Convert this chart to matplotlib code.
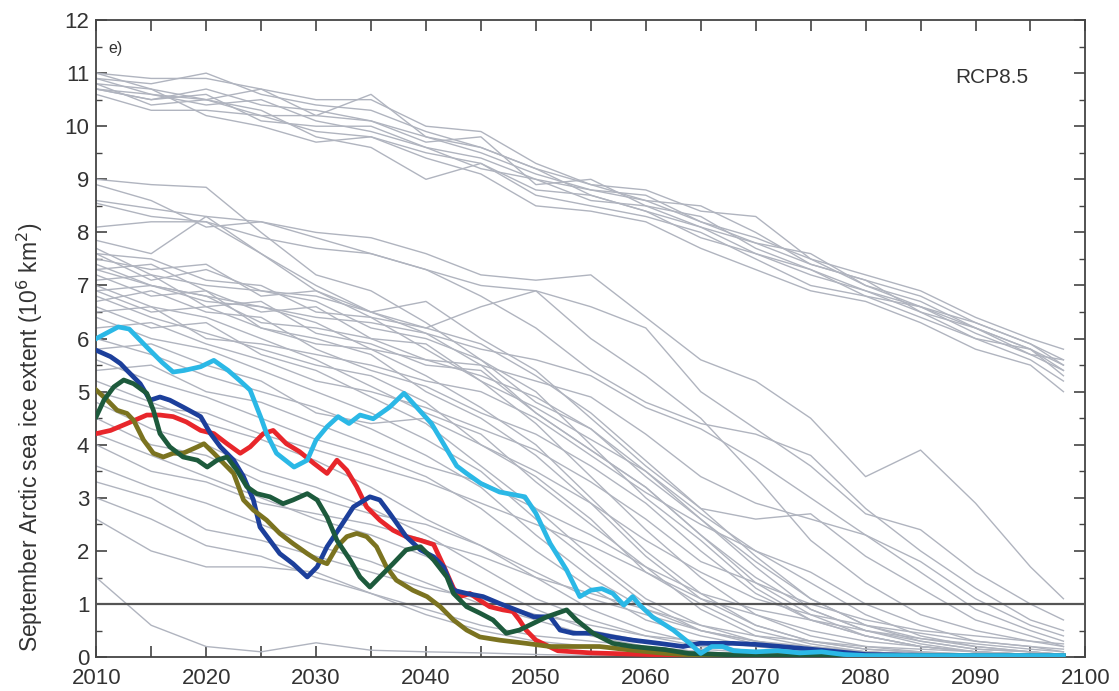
import numpy as np
import matplotlib
matplotlib.use("Agg")
import matplotlib.pyplot as plt
from matplotlib.ticker import MultipleLocator

plt.rcParams["font.family"] = ["Liberation Sans", "DejaVu Sans"]

# ---- ensemble members (grey), sampled every 5 years ----
years5 = [2010, 2015, 2020, 2025, 2030, 2035, 2040, 2045, 2050, 2055,
          2060, 2065, 2070, 2075, 2080, 2085, 2090, 2095, 2098]

models_high = [
    [11.0, 10.9, 10.9, 10.7, 10.5, 10.5, 10.0, 9.9, 9.3, 8.9, 8.8, 8.4, 8.3, 7.5, 7.2, 6.9, 6.4, 6.0, 5.8],
    [10.9, 10.8, 11.0, 10.6, 10.4, 10.3, 9.9, 9.6, 9.2, 8.9, 8.6, 8.5, 8.0, 7.4, 7.1, 6.8, 6.3, 5.9, 5.6],
    [10.8, 10.7, 10.5, 10.7, 10.2, 10.6, 9.8, 9.5, 9.1, 8.8, 8.7, 8.2, 7.9, 7.5, 7.0, 6.7, 6.2, 5.8, 5.5],
    [10.7, 10.5, 10.7, 10.4, 10.3, 10.1, 9.7, 9.8, 8.9, 9.0, 8.5, 8.1, 7.8, 7.6, 7.0, 6.6, 6.3, 5.9, 5.5],
    [10.7, 10.6, 10.4, 10.5, 10.1, 9.9, 9.6, 9.4, 9.0, 8.6, 8.5, 8.3, 7.7, 7.3, 6.9, 6.6, 6.1, 5.7, 5.4],
    [10.6, 10.3, 10.3, 10.2, 9.9, 9.8, 9.5, 9.3, 8.8, 8.7, 8.4, 7.9, 7.6, 7.2, 6.9, 6.5, 6.0, 5.8, 5.3],
    [10.8, 10.4, 10.5, 10.3, 9.8, 9.6, 9.0, 9.3, 8.7, 8.5, 8.3, 8.0, 7.5, 7.0, 6.8, 6.4, 6.0, 5.6, 5.2],
    [11.0, 10.7, 10.2, 10.0, 9.7, 9.8, 9.4, 9.1, 8.5, 8.4, 8.2, 7.7, 7.3, 6.9, 6.7, 6.3, 5.8, 5.5, 5.0],
    [10.7, 10.5, 10.6, 10.1, 10.0, 10.0, 9.6, 9.2, 9.0, 8.8, 8.6, 8.2, 7.8, 7.4, 7.1, 6.5, 6.2, 5.7, 5.6],
    [10.9, 10.6, 10.5, 10.2, 10.2, 10.1, 9.8, 9.6, 9.2, 8.7, 8.4, 8.1, 7.6, 7.3, 6.8, 6.6, 6.2, 5.8, 5.4],
]

models_mid = [
    [9.0, 8.9, 8.85, 8.0, 7.2, 6.9, 6.3, 5.6, 4.8, 4.3, 3.5, 2.6, 1.8, 1.1, 0.6, 0.35, 0.2, 0.1, 0.05],
    [8.9, 8.6, 8.1, 8.2, 7.9, 7.6, 7.3, 7.0, 6.9, 6.6, 6.2, 5.0, 4.3, 3.6, 2.7, 2.4, 1.6, 1.0, 0.7],
    [8.6, 8.45, 8.3, 8.2, 8.0, 7.9, 7.6, 7.2, 7.1, 7.2, 6.4, 5.6, 5.2, 4.5, 3.4, 3.9, 2.9, 1.7, 1.1],
    [8.55, 8.3, 8.2, 7.6, 7.0, 6.5, 6.2, 6.6, 6.9, 6.0, 5.3, 4.5, 3.4, 2.2, 1.4, 0.8, 0.5, 0.3, 0.2],
    [8.1, 8.2, 8.2, 7.9, 7.7, 7.6, 7.3, 6.8, 6.2, 5.4, 4.8, 4.4, 4.2, 3.8, 2.8, 2.0, 1.3, 0.7, 0.5],
    [7.85, 7.6, 8.3, 7.6, 6.9, 6.5, 6.1, 5.5, 4.6, 3.9, 3.2, 2.3, 1.4, 0.8, 0.4, 0.2, 0.1, 0.05, 0.03],
]

models_low = [
    [7.7, 7.2, 7.0, 6.9, 6.7, 6.2, 6.0, 5.6, 5.0, 4.0, 3.0, 2.2, 1.3, 0.7, 0.4, 0.2, 0.1, 0.05, 0.03],
    [7.6, 7.5, 7.1, 7.0, 6.5, 6.4, 5.8, 5.2, 4.4, 3.4, 2.4, 1.5, 0.8, 0.4, 0.2, 0.1, 0.05, 0.03, 0.02],
    [7.5, 7.3, 7.4, 6.8, 6.9, 6.4, 6.2, 5.9, 5.3, 4.6, 3.7, 2.8, 1.9, 1.1, 0.6, 0.3, 0.15, 0.1, 0.05],
    [7.4, 7.0, 6.7, 6.6, 6.3, 5.8, 5.3, 4.7, 4.0, 3.0, 2.0, 1.2, 0.6, 0.3, 0.15, 0.08, 0.05, 0.03, 0.02],
    [7.3, 7.4, 6.9, 6.5, 6.6, 6.0, 5.6, 5.3, 4.9, 4.3, 3.4, 2.6, 1.7, 0.9, 0.5, 0.25, 0.1, 0.05, 0.03],
    [7.2, 6.8, 6.9, 6.2, 6.0, 5.7, 5.0, 4.5, 3.8, 2.9, 1.9, 1.1, 0.6, 0.3, 0.15, 0.1, 0.05, 0.03, 0.02],
    [7.1, 7.2, 6.6, 6.7, 6.1, 5.9, 5.5, 5.4, 4.6, 3.9, 3.2, 2.3, 1.5, 0.9, 0.5, 0.3, 0.15, 0.1, 0.05],
    [7.0, 6.6, 6.4, 6.0, 5.6, 5.1, 4.6, 4.2, 3.3, 2.5, 1.7, 0.9, 0.4, 0.2, 0.1, 0.05, 0.03, 0.02, 0.02],
    [6.9, 7.0, 6.8, 6.3, 6.2, 6.0, 5.9, 5.2, 4.7, 4.1, 3.5, 2.7, 2.0, 1.4, 0.8, 0.4, 0.2, 0.1, 0.05],
    [6.8, 6.4, 6.1, 5.8, 5.5, 5.3, 4.8, 4.0, 3.4, 2.6, 1.6, 1.0, 0.5, 0.25, 0.1, 0.05, 0.03, 0.02, 0.02],
    [6.7, 6.9, 6.5, 6.4, 5.8, 5.4, 5.1, 4.6, 4.2, 3.6, 2.9, 2.0, 1.2, 0.7, 0.4, 0.2, 0.1, 0.05, 0.03],
    [6.6, 6.2, 6.3, 5.7, 5.4, 4.9, 4.4, 3.6, 2.8, 1.9, 1.1, 0.6, 0.3, 0.15, 0.08, 0.05, 0.03, 0.02, 0.02],
    [6.5, 6.6, 6.0, 5.9, 5.7, 5.5, 5.2, 5.0, 4.5, 3.8, 3.1, 2.5, 2.0, 1.6, 1.0, 0.6, 0.3, 0.2, 0.1],
    [6.4, 6.0, 5.8, 5.4, 5.0, 4.6, 4.1, 3.5, 2.6, 1.8, 1.0, 0.5, 0.3, 0.15, 0.08, 0.05, 0.03, 0.02, 0.02],
    [6.2, 6.3, 5.9, 5.6, 5.2, 5.0, 4.7, 4.3, 3.9, 3.3, 2.6, 1.8, 1.4, 1.0, 0.7, 0.5, 0.4, 0.3, 0.25],
    [6.0, 5.7, 5.3, 5.0, 4.7, 4.3, 3.8, 3.2, 2.3, 1.5, 0.9, 0.5, 0.25, 0.1, 0.05, 0.03, 0.02, 0.02, 0.02],
    [5.8, 5.9, 5.5, 5.2, 4.6, 4.4, 4.5, 4.0, 3.5, 2.9, 2.2, 1.6, 1.1, 0.8, 0.6, 0.45, 0.3, 0.2, 0.15],
    [5.6, 5.2, 4.9, 4.5, 4.1, 3.8, 3.4, 2.8, 2.0, 1.3, 0.7, 0.4, 0.2, 0.1, 0.05, 0.03, 0.02, 0.02, 0.02],
    [5.4, 5.5, 5.0, 4.8, 4.4, 4.0, 3.6, 3.3, 2.8, 2.3, 1.7, 1.2, 0.9, 0.7, 0.5, 0.35, 0.25, 0.15, 0.1],
    [5.2, 4.8, 4.4, 4.1, 3.7, 3.2, 2.6, 2.1, 1.5, 0.9, 0.5, 0.25, 0.1, 0.05, 0.03, 0.02, 0.02, 0.02, 0.02],
    [5.0, 4.7, 4.6, 4.2, 3.9, 3.6, 3.3, 2.9, 2.5, 2.1, 1.6, 1.1, 0.8, 0.5, 0.3, 0.2, 0.1, 0.05, 0.03],
    [4.8, 4.3, 4.0, 3.5, 3.2, 2.8, 2.3, 1.7, 1.1, 0.7, 0.4, 0.2, 0.1, 0.05, 0.03, 0.02, 0.02, 0.02, 0.02],
    [4.5, 4.0, 3.8, 3.3, 3.0, 2.7, 2.5, 2.1, 1.6, 1.1, 0.8, 0.5, 0.3, 0.2, 0.1, 0.05, 0.03, 0.02, 0.02],
    [4.2, 3.8, 3.4, 3.0, 2.6, 2.3, 1.9, 1.4, 0.9, 0.5, 0.3, 0.15, 0.08, 0.05, 0.03, 0.02, 0.02, 0.02, 0.02],
    [4.0, 3.5, 3.3, 2.9, 2.7, 2.5, 2.2, 1.9, 1.5, 1.2, 0.9, 0.6, 0.4, 0.3, 0.2, 0.15, 0.1, 0.05, 0.03],
    [3.6, 3.2, 2.9, 2.5, 2.1, 1.8, 1.4, 1.0, 0.7, 0.4, 0.2, 0.1, 0.05, 0.03, 0.02, 0.02, 0.02, 0.02, 0.02],
    [3.3, 3.0, 2.4, 2.2, 1.9, 1.6, 1.3, 1.1, 0.8, 0.6, 0.4, 0.3, 0.2, 0.15, 0.1, 0.05, 0.03, 0.02, 0.02],
    [3.0, 2.6, 2.1, 1.9, 1.5, 1.2, 0.9, 0.6, 0.4, 0.3, 0.2, 0.1, 0.05, 0.03, 0.02, 0.02, 0.02, 0.02, 0.02],
    [2.6, 2.0, 1.7, 1.7, 1.6, 1.2, 0.8, 0.5, 0.3, 0.2, 0.1, 0.05, 0.03, 0.02, 0.02, 0.02, 0.02, 0.02, 0.02],
    [1.5, 0.6, 0.2, 0.1, 0.27, 0.13, 0.1, 0.08, 0.05, 0.03, 0.02, 0.02, 0.02, 0.02, 0.02, 0.02, 0.02, 0.02, 0.02],
    [7.3, 7.0, 6.8, 6.6, 6.4, 6.3, 6.1, 5.8, 5.6, 5.3, 4.7, 4.3, 3.7, 3.0, 2.3, 1.6, 0.9, 0.5, 0.3],
    [6.9, 6.5, 6.6, 6.2, 5.9, 5.8, 5.6, 5.5, 5.2, 4.9, 4.2, 3.4, 2.9, 2.6, 2.3, 1.8, 1.1, 0.6, 0.4],
    [7.6, 7.1, 7.3, 6.9, 6.8, 6.5, 6.7, 6.0, 5.4, 4.5, 3.6, 2.8, 2.6, 2.7, 1.9, 1.3, 0.7, 0.4, 0.2],
]

# ---- highlighted members ----
cyan_yr = [2010, 2012, 2013, 2014.6, 2016, 2017, 2018, 2019.5, 2020.7, 2022, 2023, 2024, 2025,
           2025.5, 2026.4, 2028, 2029.2, 2030, 2031, 2032, 2033, 2034, 2035.2, 2036.7, 2038,
           2040.5, 2042.8, 2043.7, 2045, 2046.7, 2049, 2050, 2051.3, 2052.8, 2054, 2055, 2056,
           2057, 2058, 2058.8, 2059.4, 2060.6, 2062.5, 2064, 2065, 2066, 2067, 2068, 2070, 2072,
           2074, 2076, 2078, 2080, 2090, 2098]
cyan_val = [6.0, 6.22, 6.18, 5.84, 5.55, 5.37, 5.4, 5.47, 5.59, 5.4, 5.22, 5.03, 4.5,
            4.21, 3.84, 3.58, 3.71, 4.09, 4.34, 4.53, 4.4, 4.56, 4.49, 4.71, 4.97,
            4.4, 3.6, 3.46, 3.27, 3.11, 3.02, 2.71, 2.14, 1.64, 1.14, 1.26, 1.29,
            1.2, 0.98, 1.14, 0.99, 0.76, 0.51, 0.26, 0.07, 0.2, 0.2, 0.12, 0.1, 0.12,
            0.08, 0.1, 0.05, 0.03, 0.03, 0.03]

red_yr = [2010, 2011.3, 2012.8, 2014.6, 2015.8, 2017, 2018.2, 2019.5, 2020.7, 2021.9, 2023.1,
          2024, 2025.2, 2026.1, 2027.3, 2028.5, 2029.8, 2031, 2031.9, 2032.8, 2033.7, 2034.6,
          2035.8, 2037, 2038.2, 2039.5, 2040.7, 2041.6, 2042.5, 2043.1, 2044, 2044.9, 2045.8,
          2047, 2047.9, 2048.5, 2049.1, 2050, 2050.6, 2052, 2055, 2060, 2065, 2098]
red_val = [4.21, 4.27, 4.4, 4.56, 4.56, 4.53, 4.43, 4.27, 4.21, 4.02, 3.84,
           3.96, 4.21, 4.27, 4.02, 3.87, 3.65, 3.46, 3.71, 3.52, 3.21, 2.83,
           2.58, 2.39, 2.27, 2.2, 2.12, 1.72, 1.3, 1.14, 1.2, 1.07, 0.95,
           0.89, 0.86, 0.7, 0.51, 0.32, 0.26, 0.12, 0.08, 0.05, 0.02, 0.02]

blue_yr = [2010, 2011.3, 2012.2, 2012.8, 2014, 2014.9, 2015.8, 2016.7, 2017.9, 2019.5, 2020.4,
           2021.3, 2022.5, 2023.4, 2024.3, 2024.9, 2025.8, 2026.7, 2027.9, 2029.2, 2030.1, 2031,
           2032.2, 2033.4, 2034.9, 2035.8, 2036.7, 2038.2, 2039.5, 2040.7, 2041.6, 2042.5,
           2043.7, 2045.2, 2046.7, 2048.2, 2049.8, 2051.3, 2052.2, 2053.4, 2055.2, 2057,
           2058.8, 2061.2, 2063.4, 2064.9, 2067.9, 2070, 2075, 2080, 2090, 2098]
blue_val = [5.78, 5.66, 5.53, 5.4, 5.15, 4.84, 4.9, 4.84, 4.71, 4.53, 4.21,
            3.96, 3.71, 3.4, 2.96, 2.45, 2.2, 1.95, 1.76, 1.51, 1.7, 2.08,
            2.45, 2.83, 3.02, 2.96, 2.71, 2.27, 2.02, 1.89, 1.7, 1.26,
            1.2, 1.14, 1.01, 0.89, 0.76, 0.76, 0.51, 0.45, 0.45, 0.38,
            0.32, 0.26, 0.2, 0.26, 0.26, 0.24, 0.15, 0.05, 0.02, 0.02]

green_yr = [2010, 2010.7, 2011.6, 2012.5, 2013.4, 2014.6, 2015.2, 2015.8, 2016.7, 2017.9, 2019.2,
            2020.1, 2021, 2021.9, 2022.8, 2023.7, 2024.6, 2025.8, 2027, 2027.9, 2029.2, 2030.1,
            2031, 2031.9, 2033.1, 2034, 2034.9, 2035.8, 2037, 2038.2, 2039.5, 2040.7, 2041.9,
            2042.5, 2043.7, 2044.9, 2046.1, 2047.3, 2048.5, 2049.8, 2051, 2052.8, 2053.7,
            2055.2, 2057, 2058.8, 2061.8, 2063.9, 2070, 2098]
green_val = [4.53, 4.84, 5.09, 5.22, 5.15, 4.97, 4.65, 4.21, 3.96, 3.77, 3.71,
             3.58, 3.71, 3.77, 3.52, 3.21, 3.08, 3.02, 2.89, 2.96, 3.08, 2.96,
             2.64, 2.2, 1.83, 1.51, 1.32, 1.51, 1.76, 2.02, 2.08, 1.83, 1.51,
             1.2, 0.95, 0.83, 0.7, 0.45, 0.51, 0.64, 0.76, 0.89, 0.7,
             0.45, 0.26, 0.2, 0.14, 0.07, 0.03, 0.02]

olive_yr = [2010, 2011, 2011.9, 2012.8, 2013.4, 2014.3, 2015.2, 2016.1, 2017, 2017.9, 2019.2,
            2019.8, 2020.7, 2021.6, 2022.5, 2023.4, 2024.3, 2025.5, 2026.7, 2027.9, 2029.2,
            2030.1, 2031, 2031.9, 2032.8, 2033.7, 2034.6, 2035.5, 2036.4, 2037.3, 2038.8,
            2040.1, 2041.3, 2042.5, 2043.7, 2044.9, 2046.7, 2049.1, 2051.3, 2055.8, 2058.8,
            2061.8, 2065, 2098]
olive_val = [5.03, 4.84, 4.65, 4.59, 4.46, 4.09, 3.84, 3.77, 3.84, 3.84, 3.96,
             4.02, 3.84, 3.65, 3.46, 2.96, 2.77, 2.58, 2.33, 2.14, 1.95,
             1.83, 1.76, 2.08, 2.27, 2.33, 2.27, 2.08, 1.7, 1.45, 1.26,
             1.14, 0.95, 0.7, 0.51, 0.38, 0.32, 0.26, 0.2, 0.2, 0.13,
             0.07, 0.03, 0.02]

threshold = 1.0

fig = plt.figure(figsize=(11.19, 6.91), dpi=100)
ax = fig.add_axes([0.086, 0.049, 0.884, 0.922])

for row in models_high + models_mid + models_low:
    ax.plot(years5, row, color="#b0b4bf", lw=1.0, zorder=2)

ax.axhline(threshold, color="#555555", lw=1.6, zorder=3)

ax.plot(red_yr, red_val, color="#e8262b", lw=3.4, zorder=4, solid_joinstyle="round")
ax.plot(blue_yr, blue_val, color="#1c3f9b", lw=3.4, zorder=5, solid_joinstyle="round")
ax.plot(olive_yr, olive_val, color="#7b7320", lw=3.4, zorder=6, solid_joinstyle="round")
ax.plot(green_yr, green_val, color="#1d5a3c", lw=3.4, zorder=7, solid_joinstyle="round")
ax.plot(cyan_yr, cyan_val, color="#2bb8e6", lw=3.4, zorder=8, solid_joinstyle="round")

ax.set_xlim(2010, 2100)
ax.set_ylim(0, 12)
ax.xaxis.set_major_locator(MultipleLocator(10))
ax.xaxis.set_minor_locator(MultipleLocator(5))
ax.yaxis.set_major_locator(MultipleLocator(1))
ax.yaxis.set_minor_locator(MultipleLocator(0.5))
ax.tick_params(which="both", direction="in", top=True, right=True, color="#444444")
ax.tick_params(which="major", length=8, width=1.2, labelsize=16, labelcolor="#333333")
ax.tick_params(axis="x", which="major", pad=8)
ax.tick_params(axis="y", which="major", pad=5)
ax.tick_params(axis="x", which="minor", length=8, width=1.2)
ax.tick_params(axis="y", which="minor", length=4, width=1.0)
for s in ax.spines.values():
    s.set_color("#444444")
    s.set_linewidth(1.3)

ax.set_ylabel("September Arctic sea ice extent (10$^6$ km$^2$)", fontsize=16.5, color="#333333")
ax.yaxis.set_label_coords(-0.052, 0.345)
ax.text(0.012, 0.955, "e)", transform=ax.transAxes, fontsize=11.5, color="#333333", va="center")
ax.text(0.942, 0.91, "RCP8.5", transform=ax.transAxes, fontsize=15, color="#333333", ha="right", va="center")

fig.savefig("out.png", dpi=100)
